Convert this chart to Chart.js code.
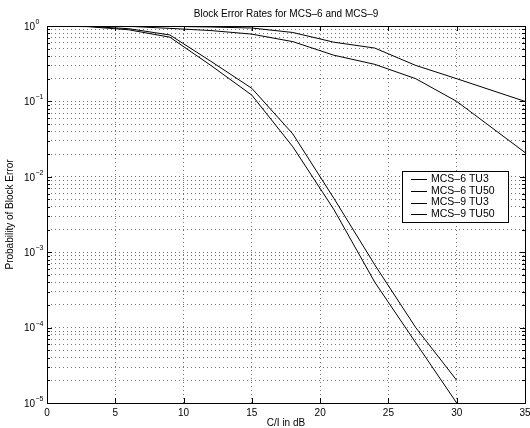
<!DOCTYPE html>
<html>
<head>
<meta charset="utf-8">
<script src="https://cdn.jsdelivr.net/npm/chart.js@4.4.0/dist/chart.umd.min.js"></script>
<style>
  html, body { margin: 0; padding: 0; background: #fff; }
</style>
</head>
<body>
<canvas id="blerChart" width="530" height="428"></canvas>
<script>
// C/I points (dB) for each modulation/coding scheme
const ciMcs6 = [0, 3, 6, 9, 12, 15, 18, 21, 24, 27, 30, 35];
const ciMcs9 = [0, 3, 6, 9, 12, 15, 18, 21, 24, 27, 30];

// Block error rates
const blerMcs6Tu3  = [1.0, 1.0, 1.0, 0.99, 0.97, 0.94, 0.82, 0.61, 0.51, 0.30, 0.20, 0.10];
const blerMcs6Tu50 = [1.0, 1.0, 0.99, 0.93, 0.87, 0.78, 0.62, 0.41, 0.31, 0.20, 0.10, 0.021];
const blerMcs9Tu3  = [1.0, 0.99, 0.92, 0.76, 0.34, 0.149, 0.037, 0.0052, 0.00068, 0.0001, 0.00002];
const blerMcs9Tu50 = [1.0, 0.98, 0.89, 0.71, 0.30, 0.121, 0.025, 0.0037, 0.0004, 0.000063, 0.00001];

const seriesNames = ['MCS\u20136 TU3', 'MCS\u20136 TU50', 'MCS\u20139 TU3', 'MCS\u20139 TU50'];
const xTicks = [0, 5, 10, 15, 20, 25, 30, 35];
const yExponents = [0, -1, -2, -3, -4, -5];

const FONT = '"Liberation Sans", Arial, sans-serif';

function pts(xs, ys) {
    return xs.map((x, i) => ({ x: x, y: ys[i] }));
}

function lineSet(label, xs, ys) {
    return {
        label: label,
        data: pts(xs, ys),
        borderColor: '#000',
        borderWidth: 1,
        pointRadius: 0,
        tension: 0,
        fill: false
    };
}

// every 1..9 x 10^e between 1e-5 and 1
function logTicks() {
    const out = [];
    for (let e = -5; e <= 0; e++) {
        for (let m = 1; m <= 9; m++) {
            const v = m * Math.pow(10, e);
            if (v <= 1.0000001) out.push({ value: v, major: m === 1 });
        }
    }
    return out;
}

// Axes box, inner tick marks, labels and legend (MATLAB style)
const decorations = {
    id: 'decorations',
    afterDraw(chart) {
        const ctx = chart.ctx;
        const area = chart.chartArea;
        const xs = chart.scales.x;
        const ys = chart.scales.y;
        ctx.save();

        // frame
        ctx.strokeStyle = '#000';
        ctx.lineWidth = 1;
        ctx.strokeRect(Math.round(area.left) + 0.5, Math.round(area.top) + 0.5,
            Math.round(area.right - area.left), Math.round(area.bottom - area.top));

        // tick marks
        ctx.beginPath();
        xTicks.forEach(v => {
            const px = Math.round(xs.getPixelForValue(v)) + 0.5;
            ctx.moveTo(px, area.bottom); ctx.lineTo(px, area.bottom - 5);
            ctx.moveTo(px, area.top); ctx.lineTo(px, area.top + 5);
        });
        logTicks().forEach(t => {
            const py = Math.round(ys.getPixelForValue(t.value)) + 0.5;
            const len = t.major ? 5 : 3;
            ctx.moveTo(area.left, py); ctx.lineTo(area.left + len, py);
            ctx.moveTo(area.right, py); ctx.lineTo(area.right - len, py);
        });
        ctx.stroke();

        ctx.fillStyle = '#000';

        // x tick labels
        ctx.font = '10px ' + FONT;
        ctx.textAlign = 'center';
        ctx.textBaseline = 'middle';
        xTicks.forEach(v => {
            ctx.fillText(String(v), xs.getPixelForValue(v), area.bottom + 10);
        });

        // y tick labels: 10 with superscript exponent
        yExponents.forEach(e => {
            const py = ys.getPixelForValue(Math.pow(10, e));
            ctx.font = '10px ' + FONT;
            ctx.textAlign = 'right';
            ctx.textBaseline = 'middle';
            ctx.fillText('10', area.left - 12, py + 1);
            ctx.font = '7px ' + FONT;
            ctx.textAlign = 'left';
            ctx.fillText(e === 0 ? '0' : '\u2212' + Math.abs(e), area.left - 11.5, py - 4);
        });

        // title and axis labels
        const cx = (area.left + area.right) / 2;
        ctx.font = '10px ' + FONT;
        ctx.textAlign = 'center';
        ctx.textBaseline = 'middle';
        ctx.fillText('Block Error Rates for MCS\u20136 and MCS\u20139', cx, area.top - 12);
        ctx.fillText('C/I in dB', cx, area.bottom + 20);
        ctx.save();
        ctx.translate(10, (area.top + area.bottom) / 2);
        ctx.rotate(-Math.PI / 2);
        ctx.fillText('Probability of Block Error', 0, 0);
        ctx.restore();

        // legend box
        const lx = 402, ly = 171, lw = 106, lh = 51;
        ctx.fillStyle = '#fff';
        ctx.fillRect(lx, ly, lw, lh);
        ctx.strokeStyle = '#000';
        ctx.strokeRect(lx + 0.5, ly + 0.5, lw, lh);
        ctx.font = '10.5px ' + FONT;
        ctx.textAlign = 'left';
        chart.data.datasets.forEach((ds, i) => {
            const ry = ly + 8 + i * 11.8;
            ctx.strokeStyle = ds.borderColor;
            ctx.beginPath();
            ctx.moveTo(411, Math.round(ry) + 0.5);
            ctx.lineTo(427, Math.round(ry) + 0.5);
            ctx.stroke();
            ctx.fillStyle = '#000';
            ctx.fillText(ds.label, 431, ry);
        });

        ctx.restore();
    }
};

const gridStyle = {
    color: 'rgba(0,0,0,0.55)',
    lineWidth: 1,
    drawTicks: false
};

new Chart(document.getElementById('blerChart').getContext('2d'), {
    type: 'line',
    data: {
        datasets: [
            lineSet(seriesNames[0], ciMcs6, blerMcs6Tu3),
            lineSet(seriesNames[1], ciMcs6, blerMcs6Tu50),
            lineSet(seriesNames[2], ciMcs9, blerMcs9Tu3),
            lineSet(seriesNames[3], ciMcs9, blerMcs9Tu50)
        ]
    },
    options: {
        responsive: false,
        animation: false,
        layout: { padding: { left: 47, top: 26, right: 5, bottom: 25 } },
        plugins: {
            legend: { display: false },
            title: { display: false },
            tooltip: { enabled: false }
        },
        scales: {
            x: {
                type: 'linear',
                min: 0,
                max: 35,
                afterBuildTicks: (axis) => { axis.ticks = xTicks.map(v => ({ value: v })); },
                ticks: { display: false },
                grid: gridStyle,
                border: { display: false, dash: [1, 3] }
            },
            y: {
                type: 'logarithmic',
                min: 1e-5,
                max: 1,
                afterBuildTicks: (axis) => { axis.ticks = logTicks(); },
                ticks: { display: false },
                grid: gridStyle,
                border: { display: false, dash: [1, 3] }
            }
        }
    },
    plugins: [decorations]
});
</script>
</body>
</html>
